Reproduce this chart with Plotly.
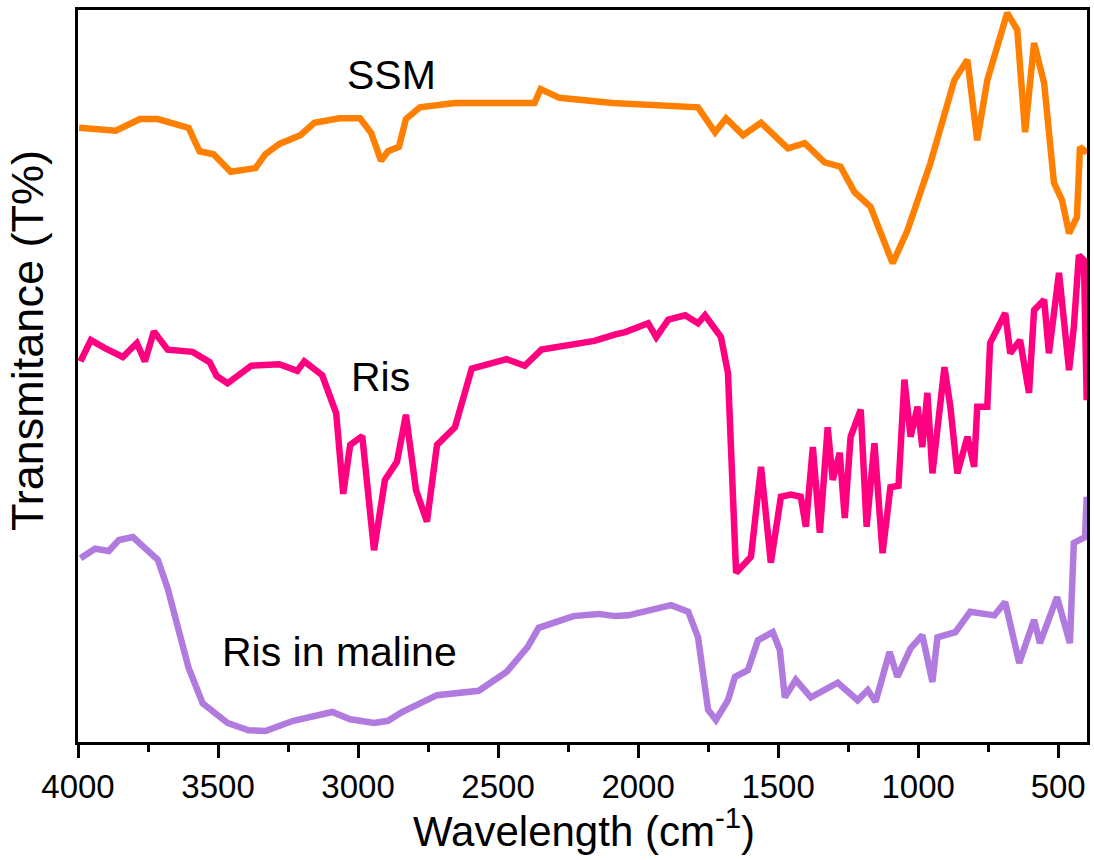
import plotly.graph_objects as go

# ---- data (wavenumber in cm^-1, transmittance in offset % units) ----
ssm_wn = [3996, 3865, 3779, 3715, 3605, 3566, 3516, 3455, 3366, 3331, 3281, 3206, 3156, 3067,
          2993, 2953, 2918, 2893, 2854, 2829, 2779, 2654, 2370, 2348, 2281, 2092, 1786, 1725,
          1686, 1625, 1561, 1465, 1405, 1334, 1277, 1227, 1170, 1091, 1038, 956, 871, 824, 789,
          753, 682, 646, 618, 586, 550, 515, 486, 461, 433, 422, 397]
ssm_t = [83.9, 83.5, 85.1, 85.1, 83.9, 80.7, 80.3, 77.9, 78.4, 80.3, 81.7, 82.9, 84.6, 85.2,
         85.2, 83.2, 79.4, 80.7, 81.3, 85.1, 86.7, 87.3, 87.3, 89.2, 88.0, 87.3, 86.7, 83.3,
         85.2, 82.9, 84.6, 81.1, 81.8, 79.2, 78.6, 75.1, 73.1, 65.4, 69.9, 79.1, 90.4, 93.2, 82.2,
         90.4, 99.6, 97.3, 83.3, 95.5, 90.0, 76.4, 74.0, 69.5, 71.7, 81.3, 80.5]

ris_wn = [3991, 3954, 3904, 3840, 3790, 3761, 3729, 3680, 3591, 3530, 3505, 3466, 3381, 3281,
          3217, 3192, 3128, 3078, 3053, 3028, 2985, 2943, 2904, 2861, 2829, 2793, 2754, 2718,
          2654, 2594, 2469, 2405, 2345, 2156, 2081, 2046, 1964, 1935, 1892, 1832, 1786, 1761,
          1704, 1679, 1668, 1650, 1597, 1561, 1526, 1490, 1455, 1419, 1401, 1376, 1351, 1323,
          1305, 1280, 1262, 1241, 1205, 1184, 1156, 1127, 1099, 1070, 1049, 1027, 1002, 985,
          967, 949, 906, 885, 860, 824, 800, 789, 753, 743, 689, 671, 636, 604, 586, 550, 533,
          497, 461, 444, 426, 408, 398]
ris_t = [52.0, 54.9, 53.8, 52.6, 54.5, 52.0, 56.1, 53.6, 53.3, 51.9, 50.0, 49.0, 51.4, 51.6,
         50.7, 52.0, 50.1, 44.9, 33.9, 40.6, 41.8, 26.2, 35.8, 38.3, 44.7, 34.4, 30.1, 40.6,
         43.0, 51.0, 52.3, 51.4, 53.6, 54.8, 55.7, 56.0, 57.2, 55.3, 57.7, 58.3, 57.2, 58.3,
         55.3, 50.4, 39.9, 23.1, 25.3, 37.6, 24.5, 33.5, 33.8, 33.5, 29.4, 40.3, 28.6, 43.0,
         35.8, 39.5, 30.6, 41.7, 45.4, 29.4, 40.8, 25.8, 34.8, 35.0, 49.5, 41.7, 45.8, 40.3,
         47.7, 36.7, 51.2, 45.8, 36.7, 41.7, 37.6, 45.8, 45.8, 54.5, 58.6, 53.1, 54.9, 47.7,
         59.0, 60.4, 53.1, 64.1, 50.8, 56.7, 66.5, 65.8, 46.7]

mal_wn = [3991, 3939, 3890, 3854, 3804, 3765, 3715, 3680, 3640, 3605, 3555, 3466, 3391, 3331,
          3231, 3092, 3028, 2943, 2893, 2843, 2718, 2569, 2469, 2394, 2355, 2231, 2142, 2081,
          2035, 1882, 1821, 1786, 1750, 1722, 1679, 1654, 1608, 1572, 1519, 1494, 1476, 1437,
          1383, 1287, 1216, 1180, 1152, 1102, 1074, 1027, 985, 949, 931, 867, 814, 728, 689,
          639, 586, 565, 504, 458, 444, 404, 398]
mal_t = [25.1, 26.4, 26.1, 27.6, 28.0, 26.6, 24.9, 21.0, 15.3, 10.1, 5.3, 2.6, 1.6, 1.5,
         2.9, 4.1, 3.1, 2.6, 2.9, 4.1, 6.4, 7.0, 9.6, 13.0, 15.6, 17.2, 17.5, 17.2,
         17.3, 18.7, 17.8, 14.3, 4.4, 3.0, 5.7, 8.9, 9.8, 13.9, 15.0, 12.6, 6.1, 8.5,
         6.1, 8.1, 5.7, 7.1, 5.5, 12.3, 8.9, 12.8, 14.6, 8.2, 14.3, 15.0, 17.8, 17.3, 19.1,
         10.8, 16.7, 13.5, 19.8, 13.5, 27.2, 28.0, 33.5]

series_names = ["SSM", "Ris", "Ris in maline"]
series_colors = ["#FF8000", "#FF0080", "#B07ADF"]
label_wn = [2882, 2921, 3067]
label_t = [91.1, 49.9, 12.3]

FONT = "Liberation Sans, Arial"

fig = go.Figure()
for name, wn, t, c in zip(series_names, [ssm_wn, ris_wn, mal_wn], [ssm_t, ris_t, mal_t], series_colors):
    fig.add_trace(go.Scatter(x=wn, y=t, mode="lines", name=name,
                             line=dict(color=c, width=6.5), showlegend=False))

for name, lx, ly in zip(series_names, label_wn, label_t):
    fig.add_annotation(x=lx, y=ly, xref="x", yref="y", text=name, showarrow=False,
                       font=dict(family=FONT, size=41, color="black"),
                       xanchor="center", yanchor="middle")

fig.add_annotation(x=0.501, y=-0.1175, xref="paper", yref="paper",
                   text="Wavelength (cm<sup>-1</sup>)", showarrow=False,
                   font=dict(family=FONT, size=42, color="black"),
                   xanchor="center", yanchor="middle")
fig.add_annotation(x=-0.0494, y=0.548, xref="paper", yref="paper",
                   text="Transmitance (T%)", showarrow=False, textangle=-90,
                   font=dict(family=FONT, size=45, color="black"),
                   xanchor="center", yanchor="middle")

fig.update_layout(
    width=1094, height=860,
    margin=dict(l=78, r=4, t=10, b=118),
    plot_bgcolor="white", paper_bgcolor="white",
    font=dict(family=FONT, color="black"),
    xaxis=dict(range=[4000, 397], tickmode="array",
               tickvals=[4000, 3500, 3000, 2500, 2000, 1500, 1000, 500],
               ticks="outside", ticklen=13, tickwidth=3, tickcolor="black",
               minor=dict(ticks="outside", ticklen=7, tickwidth=3, tickcolor="black",
                          tickvals=[3750, 3250, 2750, 2250, 1750, 1250, 750]),
               showline=True, linecolor="black", linewidth=3, mirror=True,
               showgrid=False, zeroline=False,
               tickfont=dict(size=33, family=FONT, color="black")),
    yaxis=dict(range=[0, 100], showticklabels=False, ticks="",
               showline=True, linecolor="black", linewidth=3, mirror=True,
               showgrid=False, zeroline=False),
)

fig.write_html("out.html")
